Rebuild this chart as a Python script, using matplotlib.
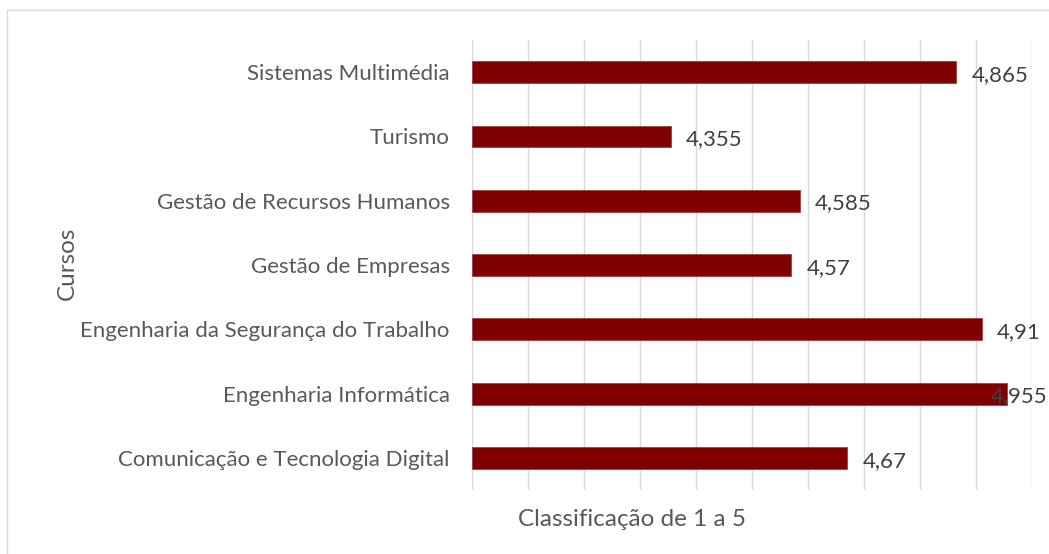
import matplotlib
matplotlib.use("Agg")
import matplotlib.pyplot as plt
from matplotlib.patches import Rectangle

cursos = [
    "Comunicação e Tecnologia Digital",
    "Engenharia Informática",
    "Engenharia da Segurança do Trabalho",
    "Gestão de Empresas",
    "Gestão de Recursos Humanos",
    "Turismo",
    "Sistemas Multimédia",
]
valores = [4.67, 4.955, 4.91, 4.57, 4.585, 4.355, 4.865]
rotulos = ["4,67", "4,955", "4,91", "4,57", "4,585", "4,355", "4,865"]

plt.rcParams['font.family'] = ['Lato', 'DejaVu Sans']

W, H = 1049, 554
fig = plt.figure(figsize=(W / 100, H / 100), dpi=100)
ax = fig.add_axes([472 / W, 1 - 490 / H, (1032 - 472) / W, (490 - 40) / H])

y = list(range(len(cursos)))
ax.barh(y, [v - 4.0 for v in valores], left=4.0, height=0.34,
        color="#800000", edgecolor="#a04040", linewidth=0.6, zorder=3)

ax.set_xlim(4.0, 5.0)
ax.set_ylim(-0.5, len(cursos) - 0.5)
ax.set_xticks([4.0 + 0.1 * i for i in range(11)])
ax.xaxis.grid(True, color="#d9d9d9", linewidth=1.0, zorder=0)
ax.tick_params(axis="x", length=0, labelbottom=False)
ax.tick_params(axis="y", length=0, pad=16, labelsize=16, labelcolor="#595959")
ax.set_yticks(y)
ax.set_yticklabels(cursos)
for s in ax.spines.values():
    s.set_visible(False)

anns = []
for yi, v, t in zip(y, valores, rotulos):
    a = ax.annotate(t, (v, yi), xytext=(11, -2), textcoords="offset points",
                    ha="left", va="center", fontsize=16, color="#404040",
                    annotation_clip=False, zorder=4)
    anns.append(a)

# keep labels inside the figure (Excel shifts overflowing labels inward)
fig.canvas.draw()
r = fig.canvas.get_renderer()
for a in anns:
    bb = a.get_window_extent(r)
    if bb.x1 > W - 2:
        dx = (bb.x1 - (W - 2)) * 72 / fig.dpi
        a.xyann = (a.xyann[0] - dx, a.xyann[1])

fig.text(632 / W, 1 - 519 / H, "Classificação de 1 a 5", ha="center", va="center",
         fontsize=17.5, color="#595959")
fig.text(67 / W, 1 - 263 / H, "Cursos", ha="center", va="center", rotation=90,
         fontsize=17.5, color="#595959")

fig.patches.append(Rectangle((7 / W, -0.05), 1.2, 1 - 10 / H + 0.05,
                             transform=fig.transFigure, fill=False,
                             edgecolor="#d9d9d9", linewidth=1.0))

fig.savefig("out.png", dpi=100)
